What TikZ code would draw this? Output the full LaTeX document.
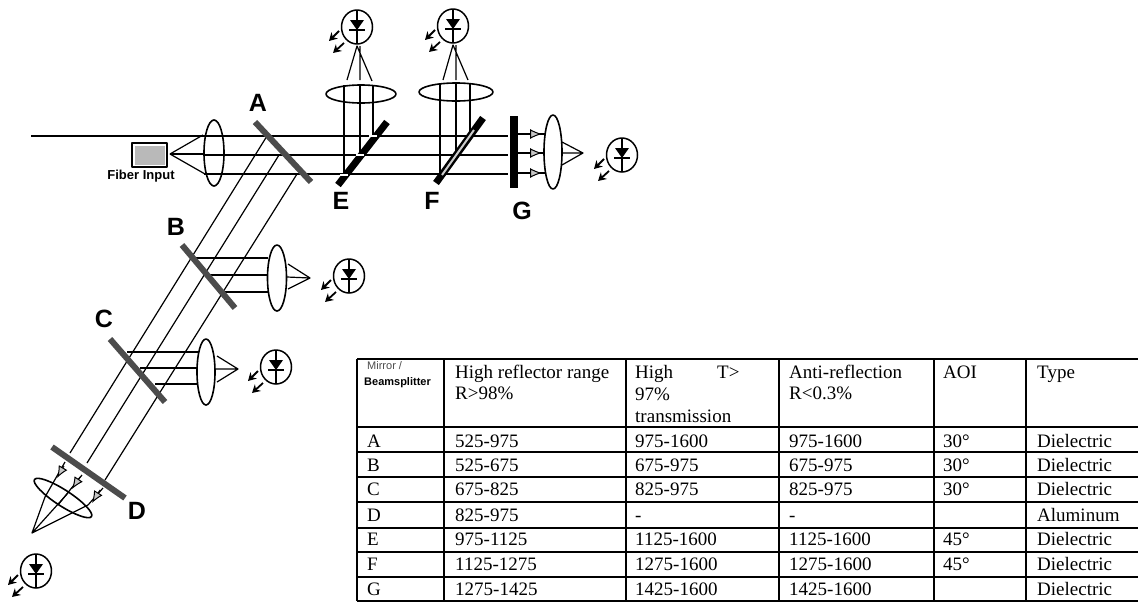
\documentclass[tikz,border=0pt]{standalone}
\usepackage{fontspec}
\setmainfont{Liberation Serif}
\setsansfont{Liberation Sans}
\usetikzlibrary{arrows.meta}

\tikzset{
  ray/.style={line width=1.2pt},
  lens/.style={draw, line width=1.6pt},
  mirror/.style={line width=6pt, gray!60!black},
  darkmirror/.style={line width=7pt, black},
  ledarrow/.style={-{Stealth[length=8pt,width=9pt]}, line width=1.8pt},
  rayarrow/.style={-{Latex[fill=gray!45,length=12pt,width=10pt]}, line width=1pt},
  letter/.style={font=\sffamily\bfseries\fontsize{25}{25}\selectfont},
  cell/.style={anchor=base west, inner sep=0pt, font=\fontsize{19}{22}\selectfont}
}

\begin{document}
\begin{tikzpicture}[x=1pt, y=-1pt, line join=round]
  \useasboundingbox (0,0) rectangle (1138,603);

  % fiber input and first lens
  \draw[line width=1.4pt] (132,143) rectangle (167,167);
  \fill[gray!55] (134.5,145.5) rectangle (164.5,164.5);
  \node[inner sep=0pt, font=\sffamily\bfseries\fontsize{13}{13}\selectfont] (fiberlabel) at (141,176) {Fiber Input};
  \draw[ray] (170,154) -- (203,135);
  \draw[ray] (170,154) -- (205,174);
  \draw[ray] (170,154) -- (203,154);
  \draw[ray] (31,136) -- (508,136);
  \draw[ray] (204,155) -- (508,155);
  \draw[ray] (204,174) -- (508,174);

  % rays towards D
  \draw[ray] (267,136) -- (70,453);
  \draw[ray] (279,155) -- (87,463);
  \draw[ray] (297,174) -- (105,480);

  % reflected at B and C
  \foreach \y/\x in {258/192,275/207,292/223} \draw[ray] (\x,\y) -- (268,\y);
  \foreach \y/\x in {352/127,368/140,384/155} \draw[ray] (\x,\y) -- (198,\y);

  % rays up from E and F
  \foreach \x/\y in {344/174,360/155,373/136} \draw[ray] (\x,\y) -- (\x,85);
  \foreach \x/\y in {440/174,456/155,470/136} \draw[ray] (\x,\y) -- (\x,83);

  % mirrors
  \draw[mirror] (255,122) -- (311,182);
  \draw[mirror] (182,245) -- (235,308);
  \draw[mirror] (110,339) -- (165,402);
  \draw[mirror] (52,447) -- (125,498);
  \draw[darkmirror] (338,185) -- (387,122);
  \draw[darkmirror] (436,183) -- (483,118);
  \draw[line width=2pt, gray!40] (442,175) -- (474,130);
  \foreach \x/\y in {344/175,360/155,373/136} \draw[line width=1.5pt, white] (\x-4,\y) -- (\x+4,\y);
  \fill (510,116) rectangle (518,188);

  % lenses
  \draw[lens] (214,153) ellipse (10 and 33);
  \draw[lens] (361,94) ellipse (35 and 9);
  \draw[lens] (456,92) ellipse (37 and 9);
  \draw[lens] (553,152) ellipse (9 and 37);
  \draw[lens] (277,278) ellipse (9.5 and 33);
  \draw[lens] (206,372) ellipse (9 and 33);
  \draw[lens, rotate around={-33:(63,498)}] (63,498) ellipse (34 and 8);

  % cones behind the lenses
  \draw[ray] (347,80) -- (357,46) -- (372,81) (360,80) -- (360,46);
  \draw[ray] (443,80) -- (453,45) -- (468,80) (456,80) -- (456,45);
  \draw[ray] (562,142) -- (583,153) -- (562,165) (562,153) -- (583,153);
  \draw[ray] (288,264) -- (310,278) -- (288,289) (287,277) -- (310,278);
  \draw[ray] (217,356) -- (238,369) -- (217,382) (216,369) -- (238,369);
  \draw[ray] (45,497) -- (32,533) -- (88,505) (68,493) -- (32,533);
  \draw[ray] (65,462) -- (45,497) (82,475) -- (58,505) (103,488) -- (88,505);

  % small arrows
  \foreach \y in {134,153,173} {
    \draw[ray] (518,\y) -- (545,\y);
    \draw[rayarrow] (528,\y) -- (542,\y);
  }
  \foreach \x/\y/\u/\v in {64/466/57/478,80/477/72/489,100/490/92/503} \draw[rayarrow] (\x,\y) -- (\u,\v);

  % photodiodes
  \foreach \x/\y in {357/27,453/26,622/155,349/276,276/367,36/571} {
    \draw[line width=1.5pt] (\x,\y) ellipse (15.5 and 17);
    \fill (\x-7,\y-7) -- (\x+7,\y-7) -- (\x,\y+3) -- cycle;
    \draw[line width=1.4pt] (\x,\y-17) -- (\x,\y+17) (\x-8,\y+3) -- (\x+8,\y+3);
    \draw[ledarrow] (\x-18,\y+4) -- (\x-28,\y+14);
    \draw[ledarrow] (\x-13,\y+16) -- (\x-24,\y+26);
  }

  % letters
  \node[letter] (lettera) at (258,103) {A};
  \node[letter] (letterb) at (176,227) {B};
  \node[letter] (letterc) at (104,319) {C};
  \node[letter] (letterd) at (137,511) {D};
  \node[letter] (lettere) at (341,201) {E};
  \node[letter] (letterf) at (432,201) {F};
  \node[letter] (letterg) at (522,211) {G};

  % table grid
  \foreach \y in {359,427,452,477,502,528,552,577,601} \draw[line width=1.5pt] (357,\y) -- (1138,\y);
  \foreach \x in {357,444,626,779,934,1026} \draw[line width=1.5pt] (\x,359) -- (\x,601);

  % table head
  \node[inner sep=0pt, anchor=base west, font=\sffamily\fontsize{11}{11}\selectfont, gray!60!black] (headmirror) at (367,369) {Mirror /};
  \node[inner sep=0pt, anchor=base west, font=\sffamily\bfseries\fontsize{11}{11}\selectfont] (headbeam) at (364,385) {Beamsplitter};
  \node[cell] (headrangea) at (455,378) {High reflector range};
  \node[cell] (headrangeb) at (455,399) {R>98\%};
  \node[cell] (headhigha) at (635,378) {High};
  \node[cell] (headhighb) at (717,378) {T>};
  \node[cell] (headhighc) at (635,400) {97\%};
  \node[cell] (headhighd) at (635,422) {transmission};
  \node[cell] (headantia) at (789,378) {Anti-reflection};
  \node[cell] (headantib) at (789,399) {R<0.3\%};
  \node[cell] (headaoi) at (943,378) {AOI};
  \node[cell] (headtype) at (1037,378) {Type};

  % table rows
  \foreach \id/\y/\ca/\cb/\cc/\cd/\ce in {
    A/447/525-975/975-1600/975-1600/30°/Dielectric,
    B/471/525-675/675-975/675-975/30°/Dielectric,
    C/495/675-825/825-975/825-975/30°/Dielectric,
    D/521/825-975/-/-//Aluminum,
    E/545/975-1125/1125-1600/1125-1600/45°/Dielectric,
    F/570/1125-1275/1275-1600/1275-1600/45°/Dielectric,
    G/595/1275-1425/1425-1600/1425-1600//Dielectric} {
    \node[cell] (row\id) at (367,\y) {\id};
    \node[cell] (range\id) at (455,\y) {\ca};
    \node[cell] (high\id) at (635,\y) {\cb};
    \node[cell] (anti\id) at (789,\y) {\cc};
    \node[cell] (aoi\id) at (943,\y) {\cd};
    \node[cell] (type\id) at (1037,\y) {\ce};
  }
\end{tikzpicture}
\end{document}
